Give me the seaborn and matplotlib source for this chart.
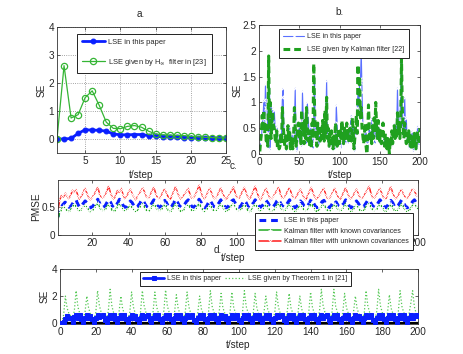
import numpy as np
import pandas as pd
import matplotlib
matplotlib.use("Agg")
import matplotlib.pyplot as plt
import seaborn as sns

# ---------------- data ----------------
# panel a
t_a = list(range(1, 26))
a_lse = [0.0, 0.0, 0.02, 0.20, 0.33, 0.32, 0.31, 0.28, 0.18, 0.15, 0.15, 0.16, 0.16,
         0.12, 0.10, 0.08, 0.07, 0.06, 0.05, 0.05, 0.04, 0.04, 0.03, 0.03, 0.03]
a_hinf = [0.0, 2.62, 0.75, 0.87, 1.48, 1.72, 1.20, 0.60, 0.38, 0.37, 0.45, 0.48, 0.42,
          0.28, 0.18, 0.15, 0.14, 0.13, 0.12, 0.10, 0.08, 0.06, 0.05, 0.04, 0.04]

# panel b
t_b = list(range(1, 201))
b_lse = [0.05, 0.3, 0.25, 0.6, 0.7, 1.05, 0.5, 1.35, 0.9, 0.95,
         0.4, 0.1, 1.35, 0.05, 1.0, 0.6, 0.9, 0.45, 0.85, 0.5,
         0.3, 0.55, 0.4, 0.15, 0.1, 0.2, 0.15, 0.35, 1.1, 1.27,
         0.3, 0.2, 0.35, 0.05, 0.25, 0.45, 0.2, 0.55, 0.3, 0.1,
         0.4, 0.2, 0.15, 0.6, 1.28, 0.25, 0.05, 0.2, 0.4, 0.55,
         0.25, 0.35, 0.15, 1.22, 0.65, 0.3, 0.45, 0.8, 0.2, 1.0,
         0.75, 0.4, 0.2, 0.55, 0.35, 0.2, 0.1, 0.6, 1.55, 0.3,
         0.25, 0.5, 0.4, 0.15, 0.3, 0.45, 0.4, 0.5, 0.35, 0.6,
         0.45, 0.3, 0.65, 1.43, 0.5, 0.2, 0.35, 0.1, 0.25, 0.15,
         0.1, 0.3, 0.05, 0.15, 0.1, 0.95, 0.6, 0.2, 0.15, 0.3,
         0.25, 0.1, 0.4, 0.2, 0.5, 0.15, 0.3, 0.2, 0.45, 0.35,
         0.2, 0.55, 0.3, 0.7, 0.75, 0.4, 0.6, 0.2, 0.05, 0.35,
         0.55, 0.9, 1.2, 0.8, 1.45, 1.4, 2.0, 1.2, 0.6, 0.55,
         0.5, 0.3, 0.45, 0.2, 0.05, 0.35, 0.5, 0.3, 0.25, 0.7,
         0.35, 0.6, 0.3, 0.2, 0.6, 0.3, 0.45, 0.25, 0.55, 0.2,
         0.3, 0.15, 0.25, 0.2, 0.35, 0.2, 0.4, 0.15, 0.3, 0.1,
         0.05, 0.1, 0.2, 0.35, 0.25, 0.15, 0.45, 0.3, 0.6, 0.35,
         0.4, 1.28, 0.6, 0.35, 0.5, 1.15, 2.0, 0.7, 0.4, 0.3,
         1.1, 0.45, 0.7, 0.25, 0.35, 0.2, 0.1, 0.3, 0.15, 0.45,
         0.2, 0.05, 0.3, 0.15, 0.4, 0.1, 0.55, 0.25, 0.15, 0.2]
b_kal = [0.05, 0.25, 0.4, 0.75, 0.55, 0.85, 0.4, 0.6, 0.2, 0.35,
         0.15, 1.9, 0.5, 1.0, 0.3, 0.65, 0.8, 0.55, 0.5, 0.3,
         0.2, 0.45, 0.1, 0.25, 0.1, 0.15, 0.4, 0.2, 0.9, 0.55,
         0.35, 0.15, 0.4, 0.1, 0.3, 0.55, 0.25, 0.45, 0.1, 0.3,
         0.2, 0.1, 0.35, 0.9, 0.5, 0.15, 0.3, 0.45, 0.6, 0.3,
         0.45, 0.2, 0.85, 0.45, 0.6, 0.2, 0.65, 0.3, 0.9, 0.55,
         0.25, 0.45, 0.15, 0.35, 0.1, 0.6, 0.3, 1.75, 0.9, 0.5,
         0.3, 0.15, 0.6, 0.35, 0.55, 0.25, 0.5, 0.3, 0.65, 0.4,
         0.25, 0.85, 0.4, 1.1, 0.3, 0.5, 0.15, 0.4, 0.2, 0.45,
         0.25, 0.1, 0.35, 0.2, 0.6, 0.4, 0.15, 0.3, 0.5, 0.2,
         0.45, 0.3, 0.65, 0.35, 0.2, 0.5, 0.4, 0.25, 0.6, 0.3,
         0.45, 0.2, 0.5, 0.35, 0.25, 0.7, 0.45, 0.1, 0.3, 0.55,
         0.75, 0.4, 1.73, 1.0, 1.5, 0.7, 0.9, 0.5, 0.35, 0.2,
         0.4, 0.6, 0.15, 0.0, 0.3, 0.95, 0.5, 0.25, 0.4, 0.2,
         0.55, 0.3, 0.7, 0.45, 1.0, 0.55, 0.3, 0.65, 0.4, 0.25,
         0.45, 0.2, 0.35, 0.6, 0.3, 0.15, 0.4, 0.25, 0.1, 0.3,
         0.2, 0.0, 0.3, 0.15, 0.45, 0.2, 0.35, 0.55, 0.3, 0.45,
         0.3, 0.8, 0.45, 0.6, 0.3, 0.55, 1.85, 0.9, 0.5, 0.3,
         0.6, 0.35, 0.2, 0.4, 0.25, 0.45, 0.3, 0.15, 0.35, 0.1,
         0.3, 0.15, 0.4, 0.2, 0.1, 0.35, 0.45, 0.2, 0.3, 0.5]

# panel c
t_c = list(range(1, 201))
c_lse = [0.32, 0.48, 0.50, 0.55, 0.58, 0.52, 0.49, 0.50, 0.55, 0.60, 0.62, 0.54, 0.49, 0.51, 0.56, 0.60, 0.57, 0.51, 0.48, 0.50, 0.54, 0.59, 0.63, 0.56, 0.50,
         0.49, 0.51, 0.57, 0.62, 0.58, 0.51, 0.48, 0.51, 0.57, 0.63, 0.59, 0.52, 0.49, 0.50, 0.55, 0.60, 0.57, 0.51, 0.48, 0.50, 0.55, 0.60, 0.62, 0.55, 0.50,
         0.48, 0.51, 0.57, 0.62, 0.58, 0.51, 0.49, 0.51, 0.56, 0.61, 0.57, 0.50, 0.48, 0.51, 0.57, 0.63, 0.58, 0.52, 0.49, 0.50, 0.54, 0.59, 0.62, 0.55, 0.50,
         0.49, 0.52, 0.57, 0.63, 0.58, 0.51, 0.48, 0.50, 0.56, 0.61, 0.56, 0.50, 0.49, 0.52, 0.57, 0.62, 0.58, 0.51, 0.48, 0.50, 0.55, 0.60, 0.62, 0.56, 0.50,
         0.49, 0.51, 0.56, 0.61, 0.57, 0.50, 0.48, 0.51, 0.57, 0.62, 0.58, 0.52, 0.49, 0.52, 0.56, 0.61, 0.57, 0.51, 0.48, 0.50, 0.54, 0.60, 0.63, 0.56, 0.51,
         0.49, 0.52, 0.57, 0.62, 0.57, 0.51, 0.48, 0.51, 0.55, 0.60, 0.57, 0.51, 0.49, 0.51, 0.57, 0.63, 0.58, 0.52, 0.48, 0.50, 0.54, 0.59, 0.61, 0.55, 0.50,
         0.48, 0.52, 0.57, 0.61, 0.57, 0.51, 0.49, 0.52, 0.56, 0.62, 0.58, 0.51, 0.48, 0.51, 0.56, 0.60, 0.56, 0.50, 0.49, 0.50, 0.55, 0.60, 0.62, 0.56, 0.51,
         0.49, 0.51, 0.57, 0.62, 0.58, 0.52, 0.48, 0.51, 0.56, 0.61, 0.57, 0.50, 0.49, 0.52, 0.57, 0.62, 0.57, 0.51, 0.48, 0.50, 0.54, 0.59, 0.62, 0.57, 0.53]
c_known = [0.28, 0.40, 0.45, 0.51, 0.47, 0.43, 0.41, 0.44, 0.50, 0.55, 0.50, 0.45, 0.42, 0.45, 0.49, 0.53, 0.49, 0.44, 0.40, 0.43, 0.47, 0.52, 0.56, 0.49, 0.44,
           0.42, 0.44, 0.50, 0.54, 0.49, 0.43, 0.41, 0.45, 0.51, 0.56, 0.50, 0.45, 0.42, 0.44, 0.48, 0.53, 0.48, 0.44, 0.41, 0.43, 0.48, 0.53, 0.55, 0.48, 0.43,
           0.41, 0.45, 0.50, 0.55, 0.50, 0.44, 0.42, 0.44, 0.49, 0.54, 0.49, 0.43, 0.40, 0.44, 0.50, 0.55, 0.50, 0.45, 0.41, 0.42, 0.47, 0.51, 0.54, 0.48, 0.43,
           0.42, 0.45, 0.50, 0.56, 0.50, 0.44, 0.41, 0.44, 0.49, 0.53, 0.48, 0.43, 0.42, 0.45, 0.50, 0.55, 0.50, 0.44, 0.41, 0.43, 0.48, 0.52, 0.55, 0.49, 0.44,
           0.42, 0.44, 0.49, 0.54, 0.49, 0.43, 0.40, 0.44, 0.50, 0.55, 0.50, 0.45, 0.42, 0.45, 0.49, 0.54, 0.49, 0.44, 0.41, 0.43, 0.47, 0.52, 0.56, 0.49, 0.44,
           0.42, 0.45, 0.50, 0.55, 0.49, 0.44, 0.41, 0.44, 0.48, 0.53, 0.49, 0.44, 0.42, 0.44, 0.50, 0.56, 0.50, 0.45, 0.41, 0.43, 0.47, 0.52, 0.54, 0.48, 0.43,
           0.41, 0.45, 0.50, 0.54, 0.49, 0.44, 0.42, 0.45, 0.49, 0.55, 0.50, 0.44, 0.41, 0.44, 0.49, 0.53, 0.48, 0.43, 0.42, 0.43, 0.48, 0.53, 0.55, 0.49, 0.44,
           0.42, 0.44, 0.50, 0.55, 0.50, 0.45, 0.41, 0.44, 0.49, 0.54, 0.49, 0.43, 0.42, 0.45, 0.50, 0.55, 0.49, 0.44, 0.41, 0.43, 0.47, 0.52, 0.55, 0.50, 0.46]
c_unknown = [0.45, 0.62, 0.70, 0.66, 0.74, 0.68, 0.64, 0.70, 0.79, 0.74, 0.80, 0.69, 0.63, 0.68, 0.76, 0.82, 0.73, 0.66, 0.62, 0.67, 0.71, 0.78, 0.84, 0.72, 0.66,
             0.65, 0.70, 0.77, 0.86, 0.74, 0.67, 0.63, 0.71, 0.79, 0.75, 0.82, 0.70, 0.64, 0.68, 0.75, 0.81, 0.72, 0.67, 0.62, 0.68, 0.73, 0.79, 0.83, 0.74, 0.67,
             0.64, 0.71, 0.78, 0.84, 0.73, 0.66, 0.63, 0.69, 0.76, 0.81, 0.74, 0.66, 0.62, 0.70, 0.77, 0.85, 0.75, 0.68, 0.63, 0.67, 0.72, 0.77, 0.82, 0.71, 0.65,
             0.66, 0.72, 0.79, 0.88, 0.76, 0.68, 0.64, 0.70, 0.77, 0.82, 0.73, 0.66, 0.63, 0.69, 0.76, 0.83, 0.74, 0.67, 0.62, 0.68, 0.72, 0.78, 0.85, 0.73, 0.66,
             0.64, 0.70, 0.77, 0.84, 0.74, 0.67, 0.63, 0.70, 0.78, 0.86, 0.75, 0.67, 0.62, 0.69, 0.76, 0.82, 0.73, 0.66, 0.63, 0.68, 0.73, 0.79, 0.84, 0.72, 0.65,
             0.65, 0.71, 0.78, 0.83, 0.73, 0.66, 0.63, 0.69, 0.75, 0.81, 0.72, 0.66, 0.62, 0.70, 0.77, 0.84, 0.74, 0.67, 0.63, 0.67, 0.72, 0.78, 0.82, 0.71, 0.65,
             0.64, 0.70, 0.76, 0.82, 0.73, 0.66, 0.62, 0.69, 0.76, 0.83, 0.74, 0.67, 0.63, 0.68, 0.75, 0.81, 0.72, 0.66, 0.63, 0.68, 0.74, 0.80, 0.86, 0.73, 0.66,
             0.65, 0.71, 0.77, 0.82, 0.73, 0.66, 0.62, 0.70, 0.78, 0.85, 0.74, 0.67, 0.63, 0.69, 0.76, 0.80, 0.72, 0.66, 0.63, 0.69, 0.75, 0.81, 0.79, 0.70, 0.68]

# panel d
t_d = list(range(1, 201))
d_lse = [0.05, 0.10, 0.30, 0.55, 0.40, 0.35, 0.12, 0.42, 0.62, 0.40, 0.58, 0.30, 0.10, 0.38, 0.60, 0.36, 0.56, 0.28, 0.08, 0.35, 0.61, 0.42, 0.55, 0.60, 0.25,
         0.12, 0.40, 0.63, 0.38, 0.57, 0.30, 0.09, 0.41, 0.61, 0.39, 0.58, 0.31, 0.11, 0.39, 0.62, 0.37, 0.56, 0.29, 0.08, 0.36, 0.60, 0.41, 0.56, 0.61, 0.26,
         0.10, 0.41, 0.62, 0.38, 0.59, 0.30, 0.10, 0.40, 0.63, 0.40, 0.57, 0.29, 0.09, 0.38, 0.61, 0.37, 0.58, 0.31, 0.08, 0.35, 0.60, 0.42, 0.55, 0.62, 0.27,
         0.11, 0.40, 0.61, 0.39, 0.58, 0.31, 0.10, 0.39, 0.62, 0.38, 0.57, 0.30, 0.09, 0.40, 0.63, 0.39, 0.56, 0.28, 0.08, 0.36, 0.61, 0.41, 0.56, 0.60, 0.25,
         0.12, 0.41, 0.62, 0.37, 0.58, 0.29, 0.09, 0.40, 0.61, 0.38, 0.59, 0.31, 0.10, 0.39, 0.62, 0.38, 0.57, 0.30, 0.08, 0.35, 0.60, 0.42, 0.55, 0.61, 0.26,
         0.11, 0.40, 0.63, 0.39, 0.57, 0.30, 0.10, 0.41, 0.62, 0.39, 0.58, 0.30, 0.09, 0.38, 0.61, 0.37, 0.57, 0.29, 0.08, 0.36, 0.61, 0.41, 0.56, 0.62, 0.27,
         0.10, 0.40, 0.62, 0.38, 0.58, 0.31, 0.10, 0.40, 0.62, 0.40, 0.57, 0.29, 0.10, 0.39, 0.62, 0.38, 0.56, 0.30, 0.08, 0.35, 0.60, 0.42, 0.55, 0.61, 0.26,
         0.11, 0.41, 0.61, 0.38, 0.58, 0.30, 0.09, 0.40, 0.63, 0.39, 0.57, 0.30, 0.10, 0.39, 0.61, 0.37, 0.58, 0.29, 0.08, 0.36, 0.60, 0.41, 0.56, 0.60, 0.55]
d_thm = [0.05, 0.60, 2.00, 1.10, 0.70, 0.55, 0.35, 0.90, 2.40, 1.20, 0.75, 0.55, 0.30, 0.85, 2.00, 1.10, 0.70, 0.50, 0.30, 0.80, 2.40, 1.30, 0.80, 0.60, 0.45,
         0.30, 0.90, 2.50, 1.25, 0.75, 0.55, 0.30, 0.85, 2.00, 1.05, 0.70, 0.50, 0.30, 0.80, 2.30, 1.20, 0.75, 0.55, 0.30, 0.85, 2.40, 1.30, 0.80, 0.60, 0.45,
         0.30, 0.85, 2.30, 1.20, 0.75, 0.55, 0.30, 0.90, 2.45, 1.25, 0.80, 0.55, 0.30, 0.80, 2.10, 1.10, 0.70, 0.50, 0.30, 0.85, 2.30, 1.20, 0.75, 0.60, 0.45,
         0.30, 0.80, 2.00, 1.05, 0.70, 0.50, 0.30, 0.85, 2.40, 1.25, 0.80, 0.55, 0.30, 0.90, 2.20, 1.15, 0.75, 0.55, 0.30, 0.80, 2.30, 1.20, 0.75, 0.60, 0.45,
         0.30, 0.85, 2.40, 1.25, 0.80, 0.55, 0.30, 0.80, 2.20, 1.10, 0.70, 0.50, 0.30, 0.85, 2.00, 1.05, 0.70, 0.55, 0.30, 0.80, 2.30, 1.20, 0.75, 0.60, 0.45,
         0.30, 0.90, 2.20, 1.15, 0.75, 0.55, 0.30, 0.80, 2.00, 1.05, 0.70, 0.50, 0.30, 0.85, 2.30, 1.20, 0.75, 0.55, 0.30, 0.90, 2.50, 1.30, 0.80, 0.60, 0.45,
         0.30, 0.85, 2.50, 1.25, 0.80, 0.55, 0.30, 0.80, 2.20, 1.15, 0.75, 0.55, 0.30, 0.85, 2.00, 1.05, 0.70, 0.50, 0.30, 0.80, 2.40, 1.25, 0.80, 0.60, 0.45,
         0.30, 0.90, 2.50, 1.30, 0.80, 0.55, 0.30, 0.80, 2.10, 1.10, 0.70, 0.50, 0.30, 0.85, 2.40, 1.25, 0.80, 0.55, 0.30, 0.70, 1.50, 2.40, 1.20, 0.70, 0.50]

# ---------------- style ----------------
sns.set_style("ticks")
plt.rcParams['font.family'] = ['Liberation Sans', 'DejaVu Sans']
plt.rcParams['font.size'] = 7
plt.rcParams['xtick.direction'] = 'in'
plt.rcParams['ytick.direction'] = 'in'
plt.rcParams['axes.linewidth'] = 0.6
plt.rcParams['axes.edgecolor'] = '#333333'
TS = 7.2   # tick size
LS = 5.4   # legend size

W, H = 463, 354
fig = plt.figure(figsize=(W / 100, H / 100), dpi=100)

def box(l, t, r, b):
    return [l / W, (H - b) / H, (r - l) / W, (b - t) / H]

def style(ax):
    ax.tick_params(top=True, right=True, labelsize=TS, pad=2, length=2.5, width=0.5)
    for s in ax.spines.values():
        s.set_visible(True)
        s.set_linewidth(0.6)

def leg(ax, anchor, fs=LS, ncol=1, hl=3.0, ls=0.7, bp=0.6, cs=0.8):
    lg = ax.legend(loc='upper left', bbox_to_anchor=anchor, fontsize=fs, ncol=ncol,
                   fancybox=False, framealpha=1, edgecolor='#222222',
                   handlelength=hl, borderpad=bp, labelspacing=ls,
                   columnspacing=cs, handletextpad=0.5, borderaxespad=0)
    lg.get_frame().set_linewidth(0.7)
    lg.set_zorder(10)
    return lg

BLUE = '#0a1fff'
GREEN = '#35b535'

# ---- panel a ----
axa = fig.add_axes(box(57, 27, 226, 153))
sns.lineplot(x=t_a, y=a_lse, ax=axa, color=BLUE, lw=2, marker='o', markersize=3.5,
             markeredgecolor=BLUE, label='LSE in this paper')
sns.lineplot(x=t_a, y=a_hinf, ax=axa, color=GREEN, lw=0.9, marker='o', markersize=4.5,
             markerfacecolor='none', markeredgecolor=GREEN, markeredgewidth=0.9,
             label=r'LSE given by H$_{\infty}$  filter in [23]')
axa.set_xlim(1, 25)
axa.set_ylim(-0.5, 4)
axa.set_xticks([5, 10, 15, 20, 25])
axa.set_yticks([0, 1, 2, 3, 4])
axa.grid(True, linestyle=':', color='#888888', linewidth=0.6)
axa.set_xlabel(''); axa.set_ylabel('')
style(axa)
leg(axa, ((77 - 57) / 169, (153 - 34) / 126), hl=3.1, ls=1.5)

# ---- panel b ----
axb = fig.add_axes(box(259, 25, 420, 154))
sns.lineplot(x=t_b, y=b_lse, ax=axb, color='#5a70ff', lw=0.8, marker='x', markersize=3,
             markeredgewidth=0.8, label='LSE in this paper')
sns.lineplot(x=t_b, y=b_kal, ax=axb, color='#1fa01f', lw=2.2, dashes=(2.2, 1.3),
             label='LSE given by Kalman filter [22]')
axb.set_xlim(0, 200)
axb.set_ylim(0, 2.5)
axb.set_xticks([0, 50, 100, 150, 200])
axb.set_yticks([0, 0.5, 1, 1.5, 2, 2.5])
axb.set_yticklabels(['0', '0.5', '1', '1.5', '2', '2.5'])
axb.set_xlabel(''); axb.set_ylabel('')
style(axb)
leg(axb, ((279 - 259) / 161, (154 - 29) / 129), fs=5.0, hl=3.0, ls=0.9)

# ---- panel c ----
axc = fig.add_axes(box(58, 180, 418, 235))
sns.lineplot(x=t_c, y=c_lse, ax=axc, color=BLUE, lw=2.2, dashes=(2.2, 1.6),
             label='LSE in this paper')
sns.lineplot(x=t_c, y=c_known, ax=axc, color='#22aa22', lw=1.1, marker='+', markersize=2.5,
             markeredgewidth=0.6, label='Kalman filter with known covariances')
sns.lineplot(x=t_c, y=c_unknown, ax=axc, color='#ff1a1a', lw=1.1, marker='x', markersize=2.5,
             markeredgewidth=0.6, label='Kalman filter with unknown covariances')
axc.set_xlim(1, 200)
axc.set_ylim(0, 0.97)
axc.set_xticks([20, 40, 60, 80, 100, 120, 140, 160, 180, 200])
axc.set_yticks([0, 0.5])
axc.set_yticklabels(['0', '0.5'])
axc.set_xlabel(''); axc.set_ylabel('')
style(axc)
leg(axc, ((255 - 58) / 360, (235 - 213) / 55), fs=5.15, hl=3.0, ls=0.5)

# ---- panel d ----
axd = fig.add_axes(box(60, 269, 418, 324))
axd.axhline(0, color='black', lw=1.6, zorder=1)
sns.lineplot(x=t_d, y=d_lse, ax=axd, color=BLUE, lw=2, marker='s', markersize=2.5,
             markeredgecolor=BLUE, label='LSE in this paper', zorder=3)
sns.lineplot(x=t_d, y=d_thm, ax=axd, color='#55c855', lw=0.9, linestyle=':',
             label='LSE given by Theorem 1 in [21]', zorder=2)
axd.set_xlim(0, 200)
axd.set_ylim(-0.06, 4)
axd.set_xticks(list(range(0, 201, 20)))
axd.set_yticks([0, 2, 4])
axd.set_xlabel(''); axd.set_ylabel('')
style(axd)
leg(axd, ((140 - 60) / 358, (324 - 272) / 55), fs=5.0, ncol=2, hl=2.9, bp=0.5, cs=0.5)

# ---- titles and labels ----
def ftext(x, y, s, **kw):
    fig.text(x / W, 1 - y / H, s, ha='center', va='center', fontsize=TS, **kw)

ftext(141, 14, 'a.')
ftext(340, 12, 'b.')
ftext(234, 166, 'c.')
ftext(218, 250, 'd.')
ftext(141, 175, 't/step')
ftext(340, 175, 't/step')
ftext(233, 258, 't/step')
ftext(238, 345, 't/step')
ftext(42, 90, 'SE', rotation=90)
ftext(238, 90, 'SE', rotation=90)
ftext(36, 207, 'PMSE', rotation=90)
ftext(45, 296, 'SE', rotation=90)

fig.savefig('out.png', dpi=100)
